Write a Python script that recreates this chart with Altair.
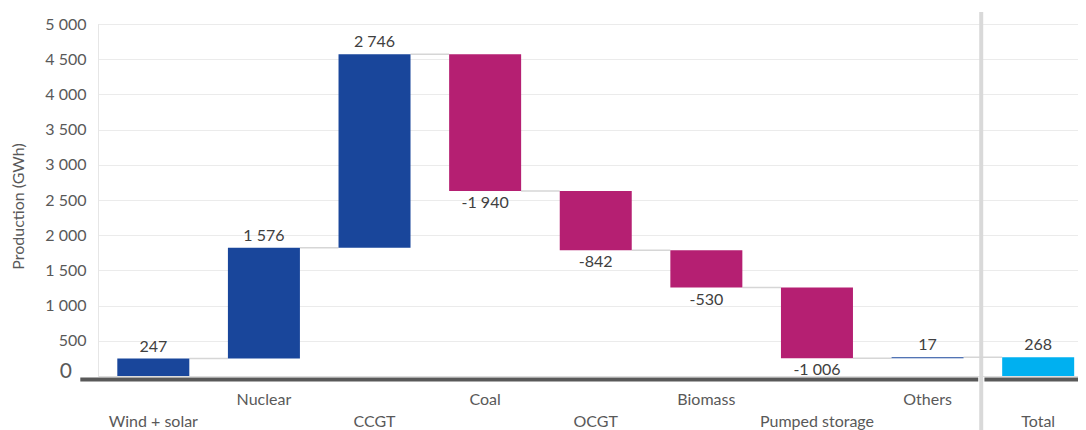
import altair as alt
import pandas as pd

categories = ["Wind + solar", "Nuclear", "CCGT", "Coal", "OCGT", "Biomass",
              "Pumped storage", "Others", "Total"]
changes = [247, 1576, 2746, -1940, -842, -530, -1006, 17, 268]
is_total = [False, False, False, False, False, False, False, False, True]
y_ticks = [500, 1000, 1500, 2000, 2500, 3000, 3500, 4000, 4500, 5000]

rows = []
cum = 0
for i, (c, v, t) in enumerate(zip(categories, changes, is_total)):
    if t:
        start, end = 0, v
    else:
        start, end = cum, cum + v
        cum = end
    kind = "total" if t else ("up" if v >= 0 else "down")
    rows.append(dict(idx=i, cat=c, start=start, end=end,
                     top=max(start, end), bottom=min(start, end),
                     kind=kind, label=f"{v:,}".replace(",", " "), row=i % 2))
df = pd.DataFrame(rows)
conn = pd.DataFrame({"idx": list(range(len(categories) - 1)),
                     "level": [r["end"] for r in rows[:-1]]})

PW, PH = 980, 352
FONT = "Lato"
GRAY = "#595959"
HALF = 0.3255

xscale = alt.Scale(domain=[-0.5, 8.36], nice=False, zero=False, padding=0)
yscale = alt.Scale(domain=[0, 5000], nice=False)
yaxis = alt.Axis(
    values=y_ticks, title="Production (GWh)", titleFont=FONT, titleFontSize=16,
    titleFontWeight="normal", titleColor=GRAY, titleBaseline="middle",
    titleX=-80, titleY=182, titleAngle=270,
    labelFont=FONT, labelColor=GRAY, labelPadding=12, labelFontSize=16,
    labelExpr="replace(format(datum.value, ','), ',', ' ')",
    ticks=False, grid=True, gridColor="#ebebeb", gridWidth=1,
    domain=True, domainColor="#e6e6e6", domainWidth=1,
)

X = lambda f="idx": alt.X(f, type="quantitative", scale=xscale, axis=None)
Y = lambda f: alt.Y(f, type="quantitative", scale=yscale, axis=yaxis)

base = alt.Chart(df)

separator = alt.Chart(pd.DataFrame({"pos": [7.485]})).mark_rule(
    color="#d9d9d9", strokeWidth=4
).encode(x=X("pos"), y=alt.value(-12), y2=alt.value(PH + 60))

connectors = alt.Chart(conn).transform_calculate(
    x1=f"datum.idx + {HALF}", x2=f"datum.idx + 1 - {HALF}"
).mark_rule(color="#d6d6d6", strokeWidth=1.5).encode(
    x=X("x1"), x2="x2:Q", y=Y("level")
)

bars = base.mark_bar(width=72).encode(
    x=X(), y=Y("start"), y2="end:Q",
    color=alt.Color("kind:N", legend=None,
                    scale=alt.Scale(domain=["up", "down", "total"],
                                    range=["#19469b", "#b51f72", "#00b0f0"])),
)

axis_lines = alt.Chart(pd.DataFrame({"a": [-0.66, 7.514], "b": [7.458, 8.5]})).mark_rule(
    color="#595959", strokeWidth=4
).encode(x=X("a"), x2="b:Q", y=alt.value(PH + 3.5))

zero_label = alt.Chart(pd.DataFrame({"v": [0]})).mark_text(
    font=FONT, fontSize=21, color=GRAY, align="right", baseline="middle", dy=-4
).encode(x=alt.value(-26), y=Y("v"), text=alt.Text("v:Q"))

lab_up = base.transform_filter("datum.kind != 'down'").mark_text(
    font=FONT, fontSize=16, color="#404040", baseline="middle", dy=-12
).encode(x=X(), y=Y("top"), text="label:N")

lab_down = base.transform_filter("datum.kind == 'down'").mark_text(
    font=FONT, fontSize=16, color="#404040", baseline="middle", dy=12
).encode(x=X(), y=Y("bottom"), text="label:N")

cat_top = base.transform_filter("datum.row == 1").mark_text(
    font=FONT, fontSize=16, color=GRAY, baseline="middle"
).encode(x=X(), y=alt.value(PH + 24), text="cat:N")

cat_bot = base.transform_filter("datum.row == 0").mark_text(
    font=FONT, fontSize=16, color=GRAY, baseline="middle"
).encode(x=X(), y=alt.value(PH + 46), text="cat:N")

chart = alt.layer(
    separator, connectors, bars, axis_lines, zero_label,
    lab_up, lab_down, cat_top, cat_bot
).properties(
    width=PW, height=PH,
    autosize=alt.AutoSizeParams(type="none"),
    padding={"left": 90, "top": 16, "right": 0, "bottom": 54},
).configure_view(stroke=None).configure(background="white")

chart.save("out.html", embed_options={"renderer": "svg", "actions": False})
